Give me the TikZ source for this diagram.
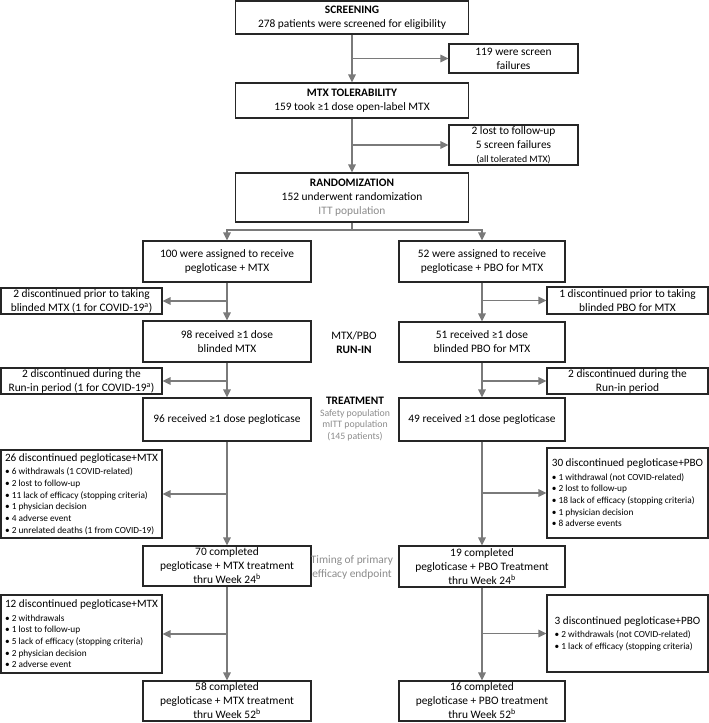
\documentclass[tikz,border=0pt]{standalone}
\usepackage{fontspec}
\setmainfont{Carlito}
\usetikzlibrary{arrows.meta}
\definecolor{arrgray}{HTML}{7A7A7A}
\definecolor{txtgray}{HTML}{8C8C8C}
\definecolor{boxline}{HTML}{262626}
\newcommand\mainsz{\fontsize{11.4}{14}\selectfont}
\newcommand\bltsz{\fontsize{9.3}{11.7}\selectfont}
\newcommand\notesz{\fontsize{9.8}{11.7}\selectfont}
\newcommand\hdrsz{\fontsize{11.2}{13}\selectfont}
\begin{document}
\begin{tikzpicture}[x=1pt,y=-1pt,
  box/.style={draw=boxline, line width=1.2pt, fill=white, align=center, inner xsep=1pt, inner ysep=0pt, font=\mainsz},
  cbox/.style={box, minimum width=233pt},
  fbox/.style={box, minimum width=129pt},
  colL/.style={box, minimum width=168pt},
  colR/.style={box, minimum width=166pt},
  sbox/.style={box, minimum width=161pt},
  lbox/.style={sbox, align=left, font=\bltsz},
  ln/.style={draw=arrgray, line width=1.5pt},
  arr/.style={ln, -{Triangle[length=8pt,width=7.5pt]}},
  note/.style={align=center, inner sep=0pt, font=\mainsz}
]
\useasboundingbox (0,0) rectangle (709,723);

% centre column
\node[cbox, minimum height=33pt] (scr) at (352,17.5) {\textbf{SCREENING}\\278 patients were screened for eligibility};
\node[fbox, minimum height=29pt] (f119) at (513.5,58.5) {119 were screen\\failures};
\node[cbox, minimum height=35pt] (tol) at (352,100.5) {\textbf{MTX TOLERABILITY}\\159 took ≥1 dose open-label MTX};
\node[fbox, minimum height=40pt] (lost) at (513.5,145) {2 lost to follow-up\\5 screen failures\\{\notesz (all tolerated MTX)}};
\node[cbox, minimum height=49pt] (rand) at (352,197.5) {\textbf{RANDOMIZATION}\\152 underwent randomization\\\textcolor{txtgray}{ITT population}};

% arms
\node[colL, minimum height=41pt] (a100) at (227,261.5) {100 were assigned to receive\\pegloticase + MTX};
\node[colR, minimum height=41pt] (a52) at (482,261.5) {52 were assigned to receive\\pegloticase + PBO for MTX};

\node[sbox, minimum height=26pt] (d2p) at (81.5,301) {2 discontinued prior to taking\\blinded MTX (1 for COVID-19\textsuperscript{a})};
\node[sbox, minimum height=27pt] (d1p) at (627.5,300.5) {1 discontinued prior to taking\\blinded PBO for MTX};

\node[colL, minimum height=41pt] (r98) at (227,341.5) {98 received ≥1 dose\\blinded MTX};
\node[colR, minimum height=40pt] (r51) at (482,342) {51 received ≥1 dose\\blinded PBO for MTX};

\node[sbox, minimum height=26pt] (d2r) at (81.5,381) {2 discontinued during the\\Run-in period (1 for COVID-19\textsuperscript{a})};
\node[sbox, minimum height=26pt] (d2rr) at (627.5,381) {2 discontinued during the\\Run-in period};

\node[colL, minimum height=43pt] (r96) at (227,419.5) {96 received ≥1 dose pegloticase};
\node[colR, minimum height=43pt] (r49) at (482,419.5) {49 received ≥1 dose pegloticase};

\node[lbox, minimum height=88pt] (d26) at (81.5,494) {{\hdrsz 26 discontinued pegloticase+MTX}\\[1.5pt]
• 6 withdrawals (1 COVID-related)\\
• 2 lost to follow-up\\
• 11 lack of efficacy (stopping criteria)\\
• 1 physician decision\\
• 4 adverse event\\
• 2 unrelated deaths (1 from COVID-19)};
\node[lbox, minimum height=90pt] (d30) at (627.5,493) {{\hdrsz 30 discontinued pegloticase+PBO}\\[1.5pt]
• 1 withdrawal (not COVID-related)\\
• 2 lost to follow-up\\
• 18 lack of efficacy (stopping criteria)\\
• 1 physician decision\\
• 8 adverse events};

\node[colL, minimum height=40pt] (c70) at (227,566) {70 completed\\pegloticase + MTX treatment\\thru Week 24\textsuperscript{b}};
\node[colR, minimum height=41pt] (c19) at (482,566.5) {19 completed\\pegloticase + PBO Treatment\\thru Week 24\textsuperscript{b}};

\node[lbox, minimum height=78pt] (d12) at (81.5,634) {{\hdrsz 12 discontinued pegloticase+MTX}\\[1.5pt]
• 2 withdrawals\\
• 1 lost to follow-up\\
• 5 lack of efficacy (stopping criteria)\\
• 2 physician decision\\
• 2 adverse event};
\node[lbox, minimum height=77pt] (d3) at (627.5,633.5) {{\hdrsz 3 discontinued pegloticase+PBO}\\[1.5pt]
• 2 withdrawals (not COVID-related)\\
• 1 lack of efficacy (stopping criteria)};

\node[colL, minimum height=40pt] (c58) at (227,701) {58 completed\\pegloticase + MTX treatment\\thru Week 52\textsuperscript{b}};
\node[colR, minimum height=40pt] (c16) at (482,701) {16 completed\\pegloticase + PBO treatment\\thru Week 52\textsuperscript{b}};

% middle labels
\node[note] (runin) at (354,343) {MTX/PBO\\\textbf{RUN-IN}};
\node[note, font=\notesz] (treat) at (355,419) {{\mainsz\bfseries TREATMENT}\\
\textcolor{txtgray}{Safety population}\\
\textcolor{txtgray}{mITT population}\\
\textcolor{txtgray}{(145 patients)}};
\node[note, text=txtgray] (timing) at (352,567) {Timing of primary\\efficacy endpoint};

% connectors: top
\draw[arr] (scr) -- (tol);
\draw[arr] (scr.south |- f119.west) -- (f119.west);
\draw[arr] (tol) -- (rand);
\draw[arr] (tol.south |- lost.west) -- (lost.west);
\coordinate (bj) at (352,230);
\draw[ln] (rand) -- (bj);
\draw[arr] (bj) -| (a100.north);
\draw[arr] (bj) -| (a52.north);

% left arm
\draw[arr] (a100) -- (r98);
\draw[arr] (a100.south |- d2p.east) -- (d2p.east);
\draw[arr] (r98) -- (r96);
\draw[arr] (r98.south |- d2r.east) -- (d2r.east);
\draw[arr] (r96) -- (c70);
\draw[arr] (r96.south |- d26.east) -- (d26.east);
\draw[arr] (c70) -- (c58);
\draw[arr] (c70.south |- d12.east) -- (d12.east);

% right arm
\draw[arr] (a52) -- (r51);
\draw[arr] (a52.south |- d1p.west) -- (d1p.west);
\draw[arr] (r51) -- (r49);
\draw[arr] (r51.south |- d2rr.west) -- (d2rr.west);
\draw[arr] (r49) -- (c19);
\draw[arr] (r49.south |- d30.west) -- (d30.west);
\draw[arr] (c19) -- (c16);
\draw[arr] (c19.south |- d3.west) -- (d3.west);
\end{tikzpicture}
\end{document}
